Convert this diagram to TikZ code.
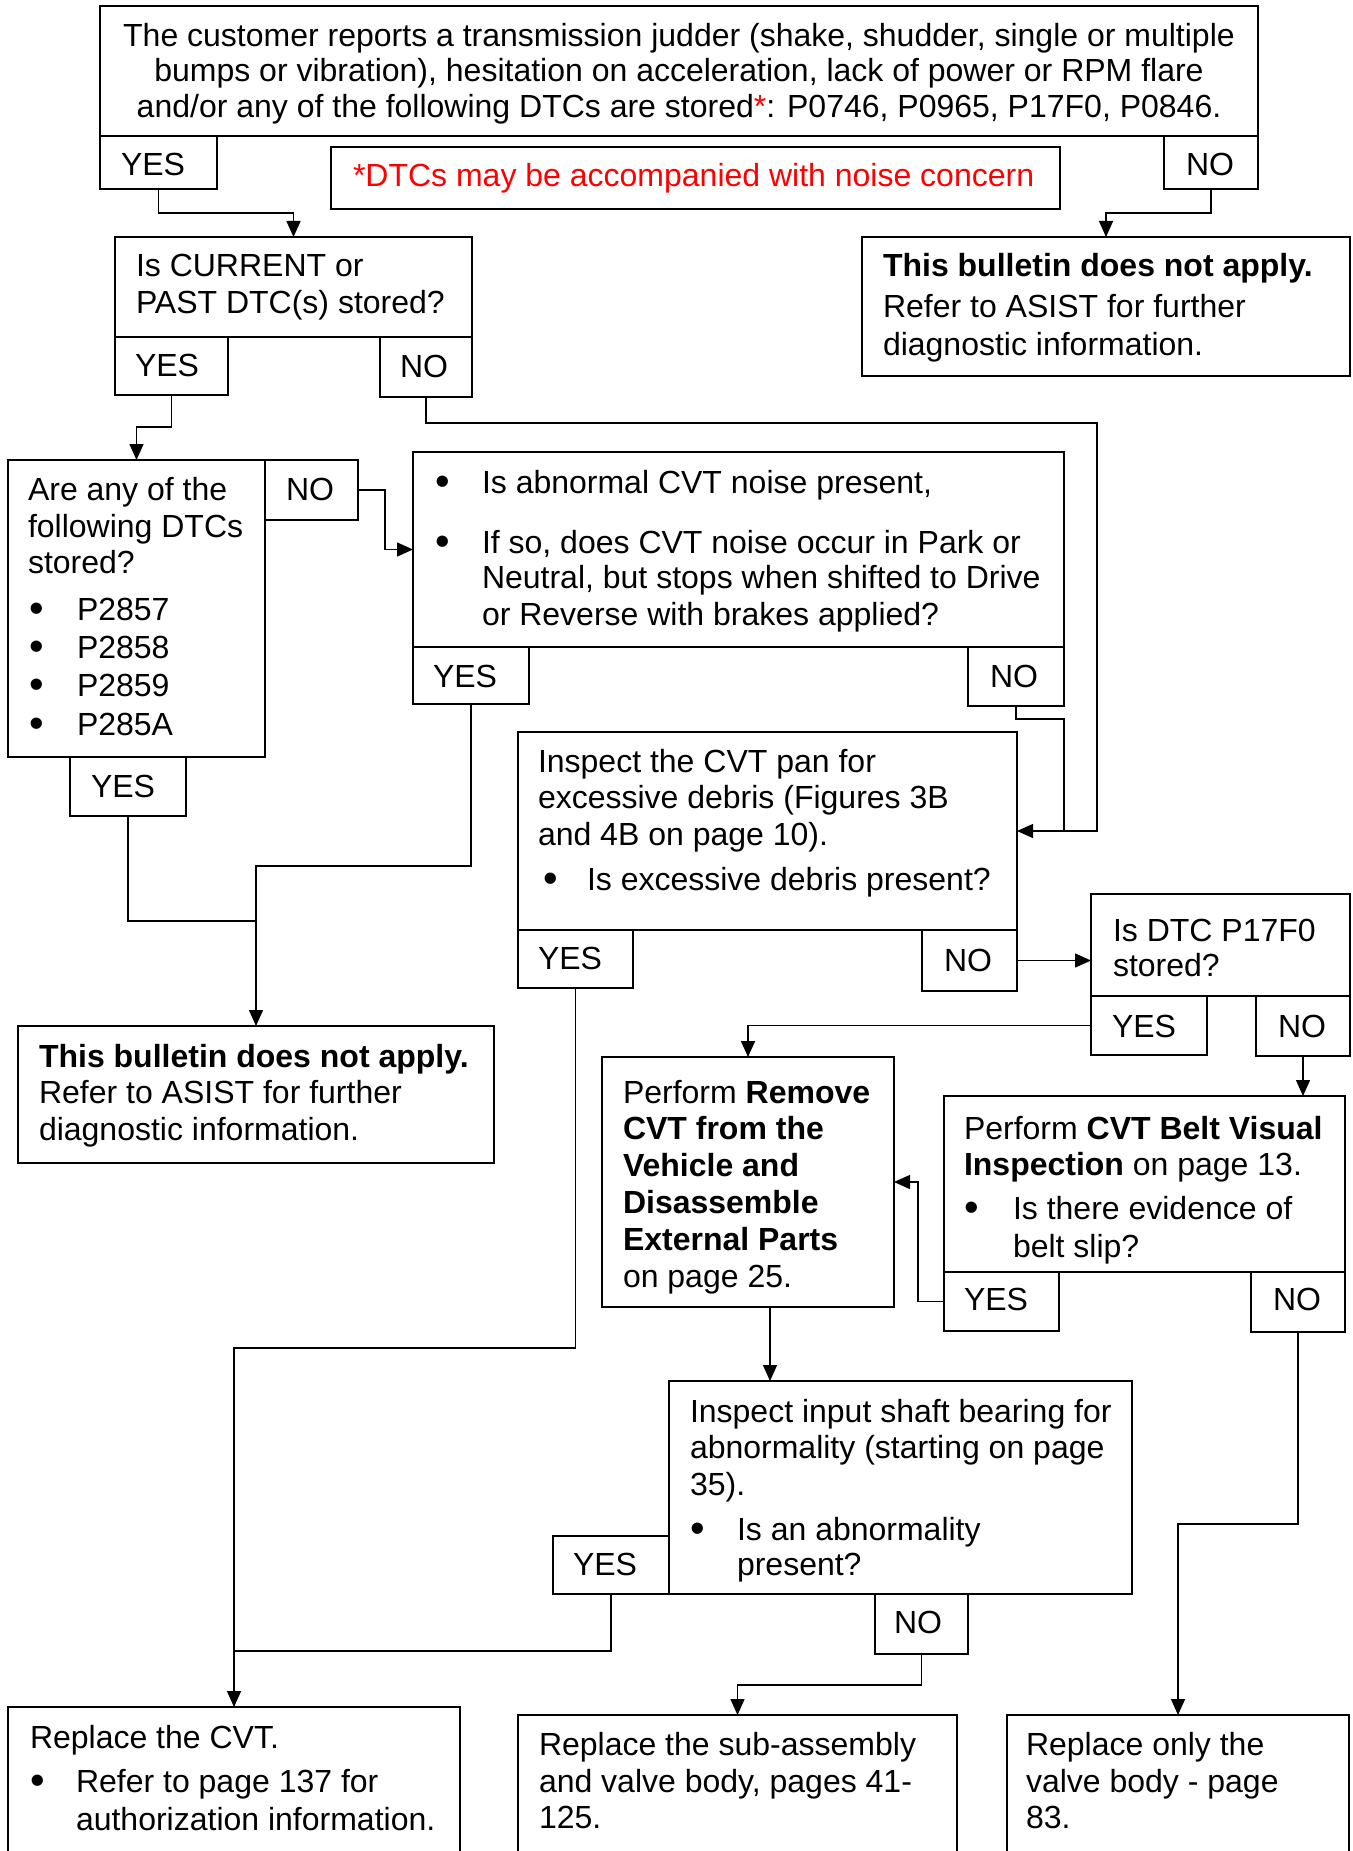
\documentclass[tikz,border=0pt]{standalone}
\usepackage{fontspec}
\setmainfont{Liberation Sans}
\usetikzlibrary{arrows.meta,fit,calc}
\newcommand\fs{\fontsize{32}{37}\selectfont}
\newcommand\BX[5]{\node[box,fit={(#2,#3) (#4,#5)}] (#1) {};}
\newcommand\TX[4]{\node[txt] (#1) at (#2,#3) {#4};}
\newcommand\BU[3]{\node[txt] (#1) at (#2,#3) {\raisebox{-2.5pt}{\scalebox{1.3}{•}}};}
\begin{document}
\begin{tikzpicture}[x=1pt,y=-1pt,
  box/.style={draw, line width=1.5pt, inner sep=0pt, outer sep=0pt},
  txt/.style={anchor=base west, inner sep=0pt, outer sep=0pt, font=\fs},
  ctxt/.style={anchor=base, inner sep=0pt, outer sep=0pt, font=\fs},
  arr/.style={line width=1.4pt, -{Triangle[length=16pt,width=14pt]}},
  ln/.style={line width=1.4pt}]
\useasboundingbox[fill=white] (0,0) rectangle (1352,1851);
\clip (0,0) rectangle (1352,1851);
% boxes
\BX{top}{100}{6}{1258}{136}
\BX{topYES}{100}{136}{217}{189}
\BX{note}{331}{147}{1060}{209}
\BX{topNO}{1164}{136}{1258}{189}
\BX{cur}{115}{237}{472}{337}
\BX{curYES}{115}{337}{228}{395}
\BX{curNO}{380}{337}{472}{397}
\BX{na1}{862}{237}{1350}{376}
\BX{dtc}{8}{460}{265}{757}
\BX{dtcNO}{265}{460}{358}{520}
\BX{dtcYES}{70}{757}{186}{816}
\BX{noise}{413}{452}{1064}{647}
\BX{noiseYES}{413}{647}{529}{704}
\BX{noiseNO}{968}{647}{1064}{706}
\BX{pan}{518}{732}{1017}{930}
\BX{panYES}{518}{930}{633}{988}
\BX{panNO}{922}{930}{1017}{991}
\BX{p17}{1091}{894}{1350}{996}
\BX{p17YES}{1091}{996}{1207}{1055}
\BX{p17NO}{1256}{996}{1350}{1056}
\BX{na2}{18}{1026}{494}{1163}
\BX{remove}{602}{1057}{894}{1307}
\BX{belt}{944}{1096}{1345}{1272}
\BX{beltYES}{944}{1272}{1059}{1331}
\BX{beltNO}{1251}{1272}{1345}{1332}
\BX{input}{669}{1381}{1132}{1594}
\BX{inYES}{553}{1536}{669}{1594}
\BX{inNO}{875}{1594}{968}{1654}
\BX{rcvt}{8}{1707}{460}{1880}
\BX{sub}{518}{1715}{957}{1880}
\BX{valve}{1007}{1715}{1349}{1880}
% texts
\node[ctxt] (t1) at (679,47) {The customer reports a transmission judder (shake, shudder, single or multiple};
\node[ctxt] (t2) at (679,82) {bumps or vibration), hesitation on acceleration, lack of power or RPM flare};
\node[ctxt] (t3) at (679,118) {and/or any of the following DTCs are stored{\color{red}*}: P0746, P0965, P17F0, P0846.};
\TX{t4}{121}{176}{YES}
\TX{t5}{353}{187}{\color{red}*DTCs may be accompanied with noise concern}
\TX{t6}{1186}{176}{NO}
\TX{t7}{136}{277}{Is CURRENT or}
\TX{t8}{136}{313}{PAST DTC(s) stored?}
\TX{t9}{135}{376}{YES}
\TX{t10}{400}{377}{NO}
\TX{t11}{883}{277}{\bfseries This bulletin does not apply.}
\TX{t12}{883}{318}{Refer to ASIST for further}
\TX{t13}{883}{355}{diagnostic information.}
\TX{t14}{28}{500}{Are any of the}
\TX{t15}{28}{537}{following DTCs}
\TX{t16}{28}{573}{stored?}
\BU{b1}{29}{620}\TX{t17}{77}{620}{P2857}
\BU{b2}{29}{658}\TX{t18}{77}{658}{P2858}
\BU{b3}{29}{696}\TX{t19}{77}{696}{P2859}
\BU{b4}{29}{735}\TX{t20}{77}{735}{P285A}
\TX{t21}{286}{500}{NO}
\TX{t22}{91}{797}{YES}
\BU{b5}{435}{493}\TX{t23}{482}{493}{Is abnormal CVT noise present,}
\BU{b6}{435}{553}\TX{t24}{482}{553}{If so, does CVT noise occur in Park or}
\TX{t25}{482}{588}{Neutral, but stops when shifted to Drive}
\TX{t26}{482}{625}{or Reverse with brakes applied?}
\TX{t27}{433}{687}{YES}
\TX{t28}{990}{687}{NO}
\TX{t29}{538}{772}{Inspect the CVT pan for}
\TX{t30}{538}{808}{excessive debris (Figures 3B}
\TX{t31}{538}{845}{and 4B on page 10).}
\BU{b7}{543}{890}\TX{t32}{587}{890}{Is excessive debris present?}
\TX{t33}{538}{969}{YES}
\TX{t34}{944}{971}{NO}
\TX{t35}{1113}{941}{Is DTC P17F0}
\TX{t36}{1113}{976}{stored?}
\TX{t37}{1112}{1037}{YES}
\TX{t38}{1278}{1037}{NO}
\TX{t39}{39}{1067}{\bfseries This bulletin does not apply.}
\TX{t40}{39}{1103}{Refer to ASIST for further}
\TX{t41}{39}{1140}{diagnostic information.}
\TX{t42}{623}{1103}{Perform \textbf{Remove}}
\TX{t43}{623}{1139}{\bfseries CVT from the}
\TX{t44}{623}{1176}{\bfseries Vehicle and}
\TX{t45}{623}{1213}{\bfseries Disassemble}
\TX{t46}{623}{1250}{\bfseries External Parts}
\TX{t47}{623}{1287}{on page 25.}
\TX{t48}{964}{1139}{Perform \textbf{CVT Belt Visual}}
\TX{t49}{964}{1175}{\textbf{Inspection} on page 13.}
\BU{b8}{964}{1219}\TX{t50}{1013}{1219}{Is there evidence of}
\TX{t51}{1013}{1257}{belt slip?}
\TX{t52}{964}{1310}{YES}
\TX{t53}{1273}{1310}{NO}
\TX{t54}{690}{1422}{Inspect input shaft bearing for}
\TX{t55}{690}{1458}{abnormality (starting on page}
\TX{t56}{690}{1495}{35).}
\BU{b9}{690}{1540}\TX{t57}{737}{1540}{Is an abnormality}
\TX{t58}{737}{1575}{present?}
\TX{t59}{573}{1575}{YES}
\TX{t60}{894}{1633}{NO}
\TX{t61}{30}{1748}{Replace the CVT.}
\BU{b10}{30}{1792}\TX{t62}{76}{1792}{Refer to page 137 for}
\TX{t63}{76}{1830}{authorization information.}
\TX{t64}{539}{1755}{Replace the sub-assembly}
\TX{t65}{539}{1792}{and valve body, pages 41-}
\TX{t66}{539}{1828}{125.}
\TX{t67}{1026}{1755}{Replace only the}
\TX{t68}{1026}{1792}{valve body - page}
\TX{t69}{1026}{1828}{83.}
% connectors
\draw[arr] (topYES.south) -- ++(0,24) -| (cur.north);
\draw[arr] (topNO.south) -- ++(0,24) -| (na1.north);
\draw[arr] (curYES.south) -- ++(0,32) -| (dtc.north);
\coordinate (j1) at (1097,423);
\draw[arr] (curNO.south) |- (j1) -- (j1 |- pan.east) -- (pan.east);
\draw[ln] (noiseNO.south) -- ++(0,13) -| (noise.east |- pan.east);
\draw[arr] (dtcNO.east) -- ++(27,0) |- (noise.west);
\draw[ln] (dtcYES.south) |- ($(na2.north)+(0,-105)$);
\draw[arr] (noiseYES.south) |- ($(na2.north)+(0,-160)$) -- (na2.north);
\draw[arr] (panNO.east) -- (panNO.east -| p17.west);
\draw[arr] (panYES.south) |- ($(rcvt.north)+(0,-359)$) -- (rcvt.north);
\draw[ln] (inYES.south) |- ($(rcvt.north)+(0,-56)$);
\draw[arr] (p17YES.west) -| (remove.north);
\draw[arr] (p17NO.south) -- (p17NO.south |- belt.north);
\draw[arr] (beltYES.west) -- ++(-26,0) |- (remove.east);
\coordinate (rs) at ($(remove.south)+(22,0)$);
\draw[arr] (rs) -- (rs |- input.north);
\draw[arr] (inNO.south) |- ($(sub.north)+(0,-30)$) -- (sub.north);
\draw[arr] (beltNO.south) |- ($(valve.north)+(0,-191)$) -- (valve.north);
\end{tikzpicture}
\end{document}
